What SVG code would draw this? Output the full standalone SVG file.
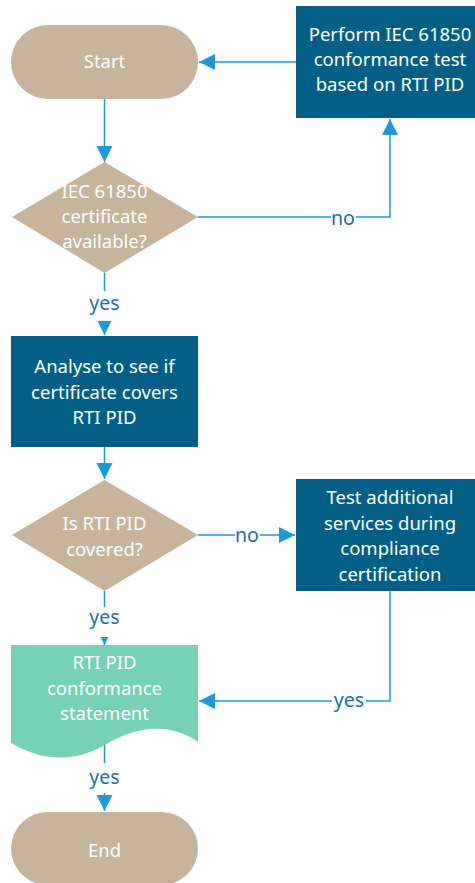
<svg xmlns="http://www.w3.org/2000/svg" width="475" height="883" viewBox="0 0 475 883">
  <style>
    .term { fill: #c8b39b; }
    .proc { fill: #035f85; }
    .doc { fill: #76d1b7; }
    .dec { fill: #c8b39b; }
    .t { font-family: "Noto Sans", "Open Sans", sans-serif; font-size: 18.5px; fill: #ffffff; text-anchor: middle; }
    .edge { fill: none; stroke: #1b9ad7; stroke-width: 1.5; }
    .lbl { font-family: "Noto Sans", "Open Sans", sans-serif; font-size: 19.5px; fill: #1a6ea8; text-anchor: middle; }
    .mask { fill: #ffffff; }
  </style>
  <defs>
    <marker id="arrow" markerUnits="userSpaceOnUse" markerWidth="17" markerHeight="17" refX="16" refY="8" orient="auto">
      <path d="M0,0 L16,8 L0,16 Z" fill="#1b9ad7"/>
    </marker>
  </defs>

  <!-- connectors -->
  <g id="connectors">
    <path class="edge" d="M296,62 H199" marker-end="url(#arrow)"/>
    <path class="edge" d="M104.5,99 V162" marker-end="url(#arrow)"/>
    <path class="edge" d="M198,217 H390 V119" marker-end="url(#arrow)"/>
    <path class="edge" d="M104.5,273 V335" marker-end="url(#arrow)"/>
    <path class="edge" d="M104.5,447 V479" marker-end="url(#arrow)"/>
    <path class="edge" d="M198,535 H295" marker-end="url(#arrow)"/>
    <path class="edge" d="M104.5,591 V645" marker-end="url(#arrow)"/>
    <path class="edge" d="M390,591 V701 H199" marker-end="url(#arrow)"/>
    <path class="edge" d="M104.5,744 V811" marker-end="url(#arrow)"/>
    <!-- edge labels -->
    <rect class="mask" x="331" y="206" width="25" height="22"/>
    <text class="lbl" x="343" y="225">no</text>
    <rect class="mask" x="87" y="291" width="35" height="30"/>
    <text class="lbl" x="104.5" y="310">yes</text>
    <rect class="mask" x="235" y="524" width="25" height="22"/>
    <text class="lbl" x="247" y="542">no</text>
    <rect class="mask" x="87" y="607" width="35" height="30"/>
    <text class="lbl" x="104.5" y="624">yes</text>
    <rect class="mask" x="332" y="690" width="34" height="24"/>
    <text class="lbl" x="349" y="707">yes</text>
    <rect class="mask" x="87" y="763" width="35" height="30"/>
    <text class="lbl" x="104.5" y="784">yes</text>
  </g>

  <g id="start">
    <rect class="term" x="11" y="25" width="187" height="74" rx="37" ry="37"/>
    <text class="t" x="104.5" y="68">Start</text>
  </g>

  <g id="perform-test">
    <rect class="proc" x="296" y="6" width="190" height="112"/>
    <text class="t" x="390" y="41">Perform IEC 61850</text>
    <text class="t" x="390" y="66">conformance test</text>
    <text class="t" x="390" y="91">based on RTI PID</text>
  </g>

  <g id="certificate-available">
    <polygon class="dec" points="104.5,162 198,217 104.5,273 12,217"/>
    <text class="t" x="104.5" y="198">IEC 61850</text>
    <text class="t" x="104.5" y="223">certificate</text>
    <text class="t" x="104.5" y="248">available?</text>
  </g>

  <g id="analyse">
    <rect class="proc" x="11" y="336" width="187" height="111"/>
    <text class="t" x="104.5" y="373">Analyse to see if</text>
    <text class="t" x="104.5" y="398.5">certificate covers</text>
    <text class="t" x="104.5" y="424">RTI PID</text>
  </g>

  <g id="pid-covered">
    <polygon class="dec" points="104.5,480 198,535 104.5,591 12,535"/>
    <text class="t" x="104.5" y="530">Is RTI PID</text>
    <text class="t" x="104.5" y="555.5">covered?</text>
  </g>

  <g id="test-additional">
    <rect class="proc" x="296" y="479" width="190" height="112"/>
    <text class="t" x="390" y="504">Test additional</text>
    <text class="t" x="390" y="529.5">services during</text>
    <text class="t" x="390" y="555">compliance</text>
    <text class="t" x="390" y="580.5">certification</text>
  </g>

  <g id="conformance-statement">
    <path class="doc" d="M11,645 H198 V742 C172,724 140,724 105,745 C72,764 40,760 11,743 Z"/>
    <text class="t" x="104.5" y="669">RTI PID</text>
    <text class="t" x="104.5" y="694.5">conformance</text>
    <text class="t" x="104.5" y="720">statement</text>
  </g>

  <g id="end">
    <rect class="term" x="11" y="812" width="187" height="73" rx="36.5" ry="36.5"/>
    <text class="t" x="104.5" y="857">End</text>
  </g>
</svg>
